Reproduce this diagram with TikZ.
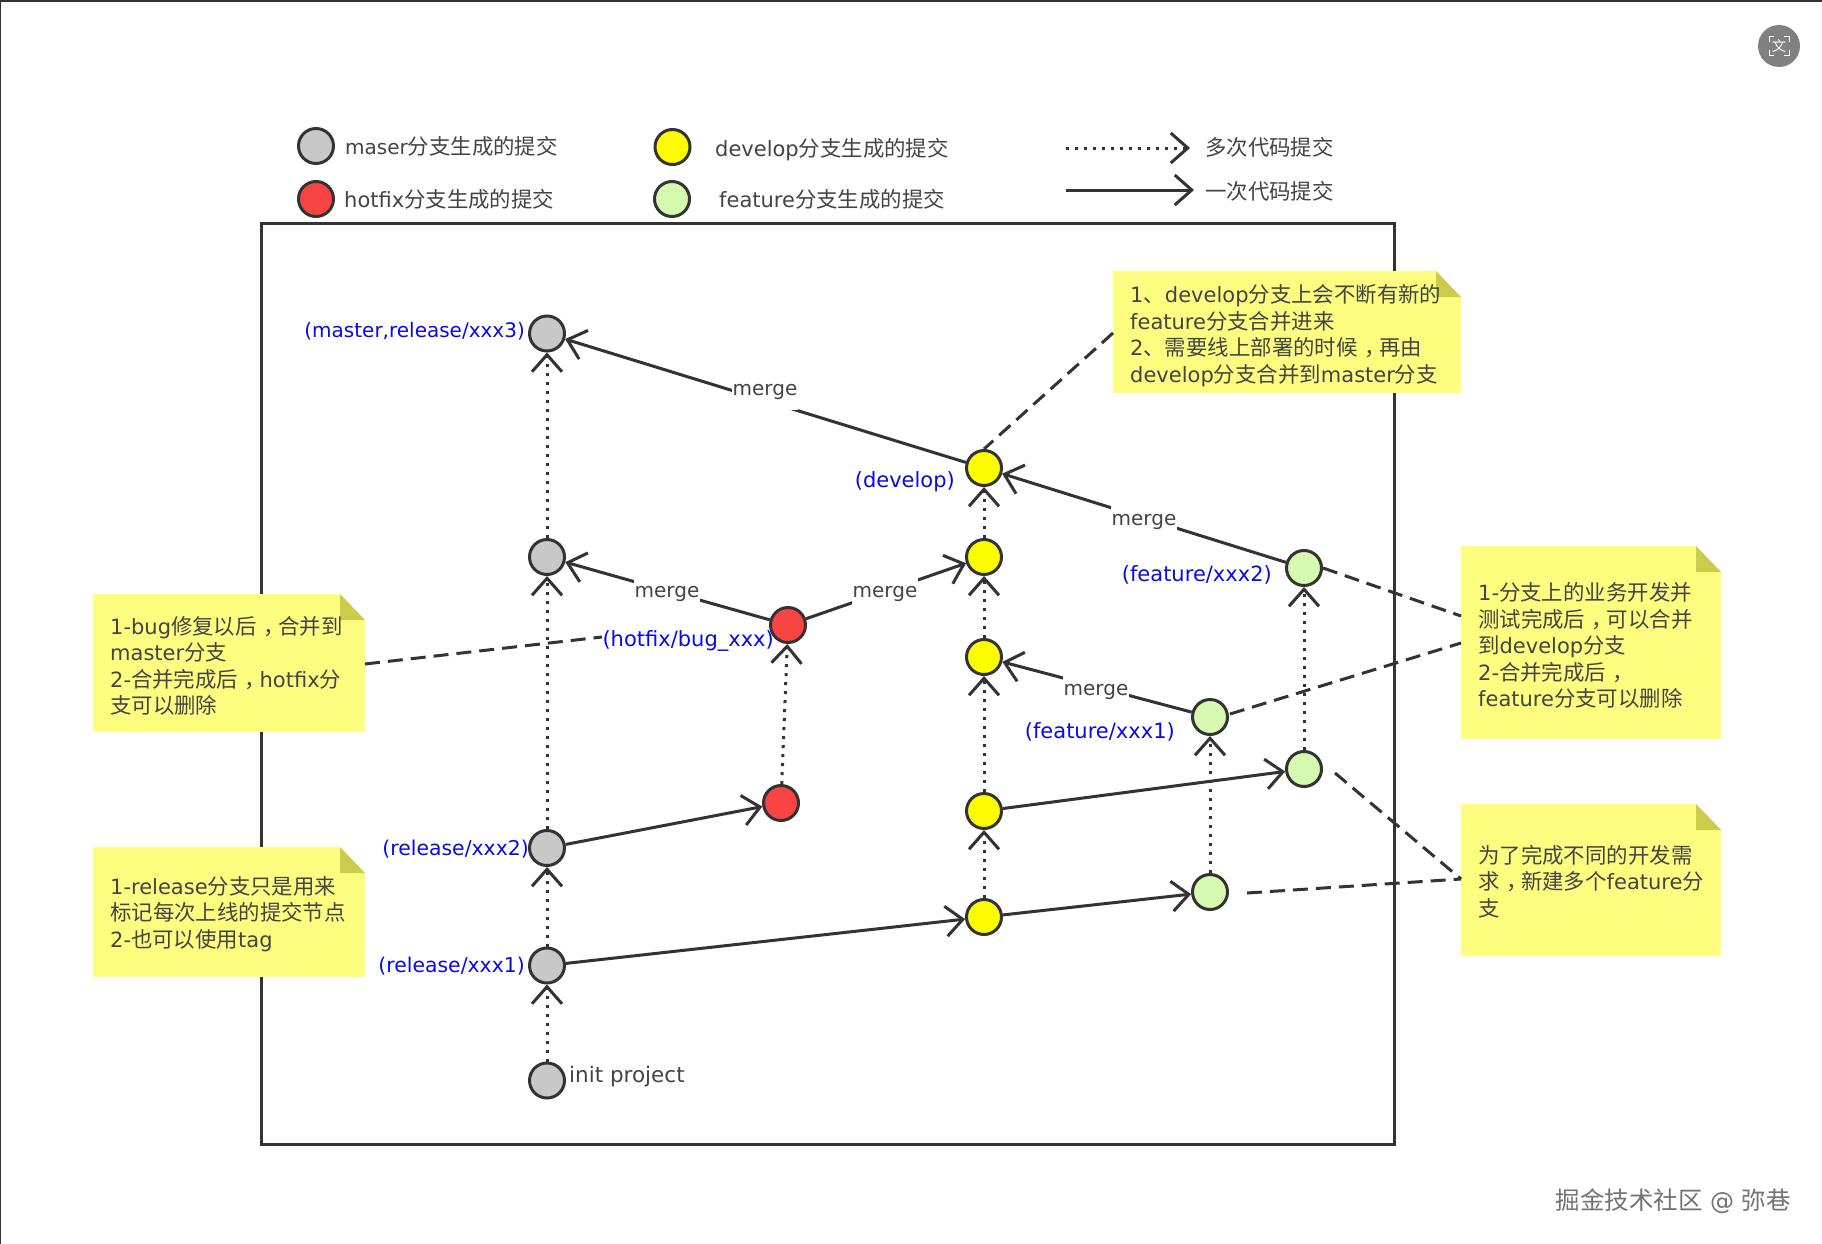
\documentclass[tikz,border=0pt]{standalone}
\usepackage{fontspec}
\setmainfont{DejaVu Sans}
\newfontfamily\cjk[Scale=1.02]{Noto Sans CJK SC}
\newcommand{\Z}[1]{{\cjk #1}}
\newcommand{\Cm}{{\cjk\kern.3em，\kern-.3em}}
\newcommand{\Nt}[1]{\rule{0pt}{#1pt}}
\usetikzlibrary{arrows.meta,calc}
\definecolor{ink}{HTML}{333333}
\definecolor{txt}{HTML}{444444}
\definecolor{notefill}{HTML}{FDFD80}
\definecolor{notefold}{HTML}{CCCC4C}
\definecolor{cgray}{HTML}{C8C8C8}
\definecolor{cred}{HTML}{F94444}
\definecolor{cyellow}{HTML}{FDFD00}
\definecolor{cgreen}{HTML}{D6FBB0}
\definecolor{lblue}{HTML}{0A0AE6}
\tikzset{
  commit/.style={circle,draw=ink,line width=3pt,minimum size=35pt,inner sep=0pt,fill=#1},
  tip/.style={-{Straight Barb[length=17pt,width=30pt,line width=3pt]}},
  once/.style={tip,draw=ink,line width=3pt},
  many/.style={tip,draw=ink,line width=3pt,dash pattern=on 3pt off 6pt},
  link/.style={draw=ink,line width=3pt,dash pattern=on 15pt off 8pt},
  txtnode/.style={font=\fontsize{21}{26.5}\selectfont,text=txt,inner sep=0pt,text height=18pt,text depth=2pt},
  branch/.style={txtnode,text=lblue},
  mergelabel/.style={txtnode,font=\fontsize{20}{26.5}\selectfont,fill=white,minimum width=#1,minimum height=36pt},
  mergelabel/.default=66pt,
  note/.style={fill=notefill,font=\fontsize{21}{26.5}\selectfont,text=txt,align=left,inner sep=0pt,anchor=north west,
    path picture={
      \fill[white] ($(path picture bounding box.north east)+(-25,0)$) -- (path picture bounding box.north east) -- ($(path picture bounding box.north east)+(0,26)$) -- cycle;
      \fill[notefold] ($(path picture bounding box.north east)+(-25,0)$) -- ($(path picture bounding box.north east)+(-25,26)$) -- ($(path picture bounding box.north east)+(0,26)$) -- cycle;
    }},
}
\begin{document}
\begin{tikzpicture}[x=1pt,y=-1pt]
\useasboundingbox (0,0) rectangle (1822,1244);
\fill[white] (0,0) rectangle (1822,1244);
% window edges
\fill[ink] (0,0) rectangle (1822,2);
\fill[ink] (0,0) rectangle (1,1244);
% translate button
\node[circle,fill=black!50,minimum size=42pt,inner sep=0pt] (btn) at (1779,46) {};
\node[text=white,font=\fontsize{14}{14}\selectfont,inner sep=0pt] (btnglyph) at (btn) {\Z{文}};
\draw[white,line width=1pt] (1769,42) -- (1769,37) -- (1774,37) (1784,37) -- (1789,37) -- (1789,42) (1789,50) -- (1789,56) -- (1784,56) (1774,56) -- (1769,56) -- (1769,50);
% frame
\node[draw=ink,line width=3pt,outer sep=0pt,minimum width=1133pt,minimum height=921pt,inner sep=0pt,anchor=north west] (frame) at (261.5,223) {};
% legend
\node[commit=cgray] (lgray) at (316,146) {};
\node[commit=cred] (lred) at (316,199) {};
\node[commit=cyellow] (lyellow) at (672.5,147) {};
\node[commit=cgreen] (lgreen) at (672,199) {};
\node[txtnode,anchor=west] (tgray) at (345,146) {{\fontsize{20}{26.5}\selectfont maser}\Z{分支生成的提交}};
\node[txtnode,anchor=west] (tred) at (344,199) {hotfix\Z{分支生成的提交}};
\node[txtnode,anchor=west] (tyellow) at (715,148) {develop\Z{分支生成的提交}};
\node[txtnode,anchor=west] (tgreen) at (719,199) {feature\Z{分支生成的提交}};
\coordinate (da) at (1066,148);
\coordinate (db) at (1190,148);
\coordinate (sa) at (1066,190);
\coordinate (sb) at (1194,190);
\draw[many] (da) -- (db);
\draw[once] (sa) -- (sb);
\node[txtnode,anchor=west] (tmany) at (1205,147) {\Z{多次代码提交}};
\node[txtnode,anchor=west] (tonce) at (1205,191) {\Z{一次代码提交}};
% notes
\node[note,minimum width=272pt,minimum height=138pt,text width=238pt] (n1) at (93,594) {\Nt{23}1-bug\Z{修复以后}\Cm\Z{合并到}\\master\Z{分支}\\2-\Z{合并完成后}\Cm hotfix\Z{分}\\\Z{支可以删除}};
\node[note,minimum width=272pt,minimum height=130pt,text width=238pt] (n2) at (93,847) {\Nt{21}1-release\Z{分支只是用来}\\\mbox{\Z{标记每次上线的提交节点}}\\2-\Z{也可以使用}tag};
\node[note,minimum width=348pt,minimum height=122pt,text width=314pt] (n3) at (1113,271) {\Nt{25}1\Z{、}develop\Z{分支上会不断有新的}\\feature\Z{分支合并进来}\\2\Z{、需要线上部署的时候}\Cm\Z{再由}\\develop\Z{分支合并到}master\Z{分支}};
\node[note,minimum width=260pt,minimum height=193pt,text width=226pt] (n4) at (1461,546) {\Nt{24}1-\Z{分支上的业务开发并}\\\Z{测试完成后}\Cm\Z{可以合并}\\\Z{到}develop\Z{分支}\\2-\Z{合并完成后}\Cm\\feature\Z{分支可以删除}};
\node[note,minimum width=260pt,minimum height=152pt,text width=226pt] (n5) at (1461,804) {\Nt{21}\Z{为了完成不同的开发需}\\\mbox{\Z{求}\Cm\Z{新建多个}feature\Z{分}}\\\Z{支}};
% commits
\node[commit=cgray] (g0) at (547,1080.5) {};
\node[commit=cgray] (g1) at (547,965.5) {};
\node[commit=cgray] (g2) at (547,848) {};
\node[commit=cgray] (g3) at (547,557) {};
\node[commit=cgray] (g4) at (547,333.5) {};
\node[commit=cyellow] (y1) at (984,917) {};
\node[commit=cyellow] (y2) at (984,811) {};
\node[commit=cyellow] (y3) at (984,657) {};
\node[commit=cyellow] (y4) at (984,557) {};
\node[commit=cyellow] (y5) at (984,468) {};
\node[commit=cred] (r1) at (781,803) {};
\node[commit=cred] (r2) at (788,625) {};
\node[commit=cgreen] (f1) at (1210,892) {};
\node[commit=cgreen] (f2) at (1210,717) {};
\node[commit=cgreen] (f3) at (1304,769) {};
\node[commit=cgreen] (f4) at (1304,568) {};
% dotted
\draw[many] (g0) -- (g1);
\draw[many] (g1) -- (g2);
\draw[many] (g2) -- (g3);
\draw[many] (g3) -- (g4);
\draw[many] (y1) -- (y2);
\draw[many] (y2) -- (y3);
\draw[many] (y3) -- (y4);
\draw[many] (y4) -- (y5);
\draw[many] (r1) -- (r2);
\draw[many] (f1) -- (f2);
\draw[many] (f3) -- (f4);
% solid
\draw[once] (g1) -- (y1);
\draw[once] (y1) -- (f1);
\draw[once] (y2) -- (f3);
\draw[once] (g2) -- (r1);
\draw[once] (y5) -- (g4);
\draw[once] (f4) -- (y5);
\draw[once] (r2) -- (g3);
\draw[once] (r2) -- (y4);
\draw[once] (f2) -- (y3);
% merge labels
\node[mergelabel,minimum height=46pt] (m1) at (765,387) {merge};
\node[mergelabel] (m2) at (1144,517) {merge};
\node[mergelabel] (m3) at (667,589) {merge};
\node[mergelabel] (m4) at (885,589) {merge};
\node[mergelabel] (m5) at (1096,687) {merge};
% branch labels
\node[branch,anchor=east,font=\fontsize{20}{26.5}\selectfont] (b1) at (525,329) {(master,release/xxx3)};
\node[branch,anchor=east] (b2) at (955,479) {(develop)};
\node[branch,anchor=east] (b3) at (1272,573) {(feature/xxx2)};
\node[branch,anchor=east] (b4) at (774,638) {(hotfix/bug\_xxx)};
\node[branch,anchor=east] (b5) at (1175,730) {(feature/xxx1)};
\node[branch,anchor=east,font=\fontsize{20.4}{26.5}\selectfont] (b6) at (529,847) {(release/xxx2)};
\node[branch,anchor=east,font=\fontsize{20.4}{26.5}\selectfont] (b7) at (525,964) {(release/xxx1)};
\node[txtnode,anchor=west,font=\fontsize{21.5}{26.5}\selectfont] (init) at (569,1074) {init project};
% note links
\coordinate (c1a) at (365,664);
\coordinate (c1b) at (602,637);
\coordinate (c3a) at (1113,333);
\coordinate (c3b) at (984,449);
\coordinate (c4a) at (1323,568);
\coordinate (c4b) at (1461,616);
\coordinate (c4c) at (1230,714);
\coordinate (c4d) at (1461,643);
\coordinate (c5a) at (1335,773);
\coordinate (c5b) at (1461,879);
\coordinate (c5c) at (1247,893);
\draw[link] (c1a) -- (c1b);
\draw[link] (c3a) -- (c3b);
\draw[link] (c4a) -- (c4b);
\draw[link] (c4c) -- (c4d);
\draw[link] (c5a) -- (c5b);
\draw[link] (c5c) -- (c5b);
% watermark
\node[txtnode,anchor=east,text=black!55,font=\fontsize{24}{26}\selectfont] (wm) at (1791,1201) {\Z{掘金技术社区} @ \Z{弥巷}};
\end{tikzpicture}
\end{document}
